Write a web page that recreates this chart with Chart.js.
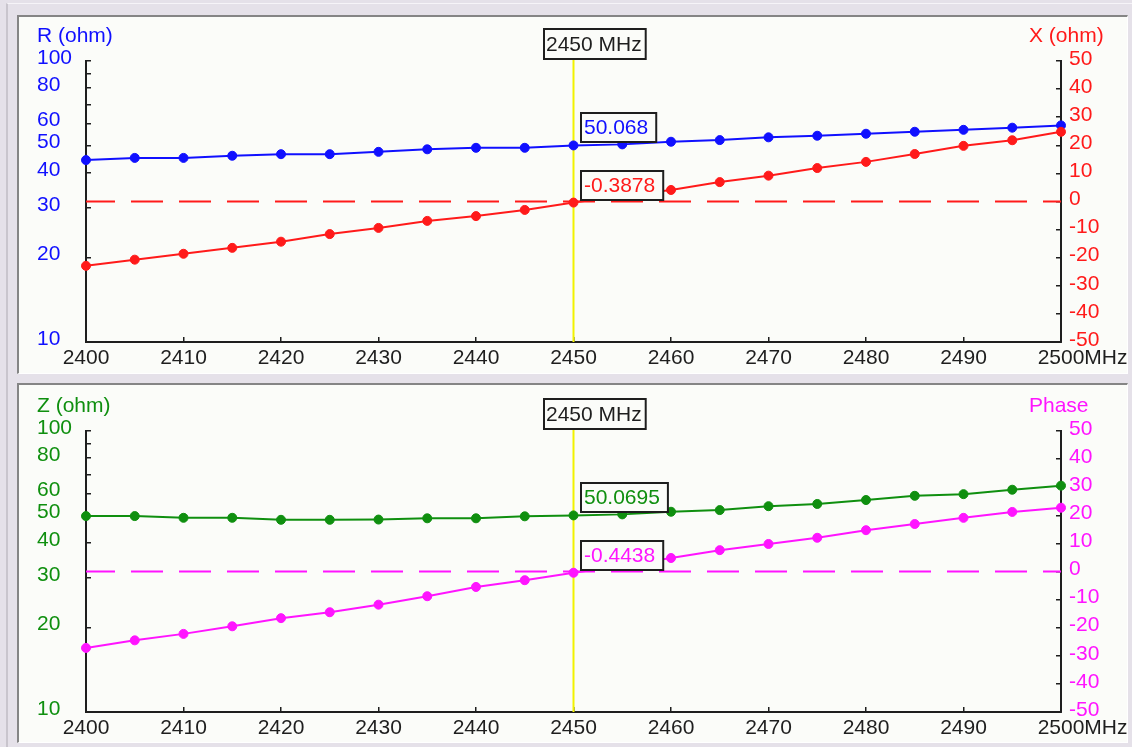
<!DOCTYPE html>
<html><head><meta charset="utf-8">
<script src="https://cdn.jsdelivr.net/npm/chart.js@4.4.1/dist/chart.umd.min.js"></script>
<style>
html,body{margin:0;padding:0;background:#e5e1e9;width:1132px;height:747px;overflow:hidden;}
.outer{position:absolute;left:6px;top:3px;width:1126px;height:744px;border-left:2px solid #c9c5cd;border-top:1px solid #f6f4f8;box-sizing:border-box;}
.panel{position:absolute;left:17px;width:1111px;box-sizing:border-box;border-top:2px solid #858585;border-left:2px solid #858585;border-right:1px solid #ffffff;border-bottom:1px solid #ffffff;background:#fbfcf9;}
#p1{top:15px;height:359px;}
#p2{top:383px;height:360px;}
canvas{display:block;}
</style></head>
<body>
<div class="outer"></div>
<div class="panel" id="p1"><canvas id="c1" width="1108" height="356"></canvas></div>
<div class="panel" id="p2"><canvas id="c2" width="1108" height="357"></canvas></div>
<script>
// ---- data ----
const freqMHz  = [2400,2405,2410,2415,2420,2425,2430,2435,2440,2445,2450,2455,2460,2465,2470,2475,2480,2485,2490,2495,2500];
const rOhm     = [44.4,45.2,45.2,46.0,46.6,46.6,47.5,48.5,49.1,49.1,50.068,50.5,51.6,52.3,53.5,54.2,55.1,56.0,56.9,57.9,59.0];
const xOhm     = [-22.9,-20.7,-18.6,-16.5,-14.3,-11.6,-9.4,-6.9,-5.2,-3.0,-0.3878,2.0,4.1,6.9,9.2,11.9,14.1,16.9,19.8,21.8,24.8];
const zOhm     = [49.8,49.8,49.1,49.1,48.3,48.3,48.4,48.9,48.9,49.7,50.0695,50.5,51.6,52.3,54.0,55.0,56.8,58.8,59.6,61.8,63.9];
const phaseDeg = [-27.2,-24.5,-22.2,-19.5,-16.6,-14.5,-11.8,-8.8,-5.5,-3.1,-0.4438,2.0,4.8,7.6,9.8,12.0,14.7,16.9,19.1,21.2,22.7];
const freqTicks = [2400,2410,2420,2430,2440,2450,2460,2470,2480,2490,2500];
const logTicks = [10,20,30,40,50,60,70,80,90,100];
const logTickLabels = [10,20,30,40,50,60,80,100];
const linTicks = [-50,-40,-30,-20,-10,0,10,20,30,40,50];
const markerFreq = 2450;
const freqUnit = 'MHz';

// ---- styling ----
const FONT_FAMILY = '"Liberation Sans", Arial, sans-serif';
const FONT_SIZE = 21;
const FONT = FONT_SIZE + 'px ' + FONT_FAMILY;
const BG = '#fbfcf9';
const AXIS = '#1e1e1e';
const BLUE = '#1010ff', RED = '#ff1a1a', GREEN = '#0f8f0f', MAGENTA = '#ff14ff';

Chart.defaults.font.family = FONT_FAMILY;
Chart.defaults.font.size = FONT_SIZE;
Chart.defaults.color = AXIS;

const pts = (ys) => freqMHz.map((f, i) => ({x: f, y: ys[i]}));
const zeroRef = () => [{x: freqMHz[0], y: 0}, {x: freqMHz[freqMHz.length - 1], y: 0}];

const decor = {
  id: 'decor',
  beforeDatasetsDraw(chart, args, o) {
    const {ctx, chartArea: ca} = chart;
    const mx = chart.scales.x.getPixelForValue(o.markerFreq);
    ctx.save();
    ctx.strokeStyle = '#f2f200';
    ctx.lineWidth = 2;
    ctx.beginPath();
    ctx.moveTo(mx, ca.top - 2);
    ctx.lineTo(mx, ca.bottom);
    ctx.stroke();
    ctx.restore();
  },
  afterDatasetsDraw(chart, args, o) {
    const {ctx} = chart;
    const mx = chart.scales.x.getPixelForValue(o.markerFreq);
    const idx = freqMHz.indexOf(o.markerFreq);
    ctx.save();
    ctx.font = FONT;
    ctx.textBaseline = 'middle';
    ctx.textAlign = 'left';
    o.readouts.forEach(di => {
      const ds = chart.data.datasets[di];
      const v = ds.data[idx].y;
      const py = chart.scales[ds.yAxisID].getPixelForValue(v);
      const txt = String(v);
      const w = ctx.measureText(txt).width + 11;
      const h = 29;
      const bx = Math.round(mx + 7), by = Math.round(py - 3 - h);
      ctx.fillStyle = BG;
      ctx.fillRect(bx, by, w, h);
      ctx.strokeStyle = AXIS;
      ctx.lineWidth = 2;
      ctx.strokeRect(bx, by, w, h);
      ctx.fillStyle = ds.borderColor;
      ctx.fillText(txt, bx + 3, by + h / 2 + 1);
    });
    ctx.restore();
  },
  afterDraw(chart, args, o) {
    const {ctx, chartArea: ca} = chart;
    const xs = chart.scales.x;
    const mx = xs.getPixelForValue(o.markerFreq);
    ctx.save();
    ctx.font = FONT;
    ctx.textBaseline = 'middle';
    // marker frequency box
    const mt = o.markerFreq + ' ' + freqUnit;
    const mw = ctx.measureText(mt).width + 6;
    const mh = 30;
    const bx = Math.round(mx - 30), by = Math.round(ca.top - 2 - mh);
    ctx.fillStyle = BG;
    ctx.fillRect(bx, by, mw, mh);
    ctx.strokeStyle = AXIS;
    ctx.lineWidth = 2;
    ctx.strokeRect(bx, by, mw, mh);
    ctx.fillStyle = AXIS;
    ctx.textAlign = 'left';
    ctx.fillText(mt, bx + 2, by + mh / 2 + 1);
    // axis titles
    ctx.fillStyle = o.leftColor;
    ctx.fillText(o.leftTitle, chart.scales.yL.left, ca.top - 25);
    ctx.fillStyle = o.rightColor;
    ctx.fillText(o.rightTitle, ca.right - 32, ca.top - 25);
    // unit after last x label
    try {
      const items = xs.getLabelItems();
      const last = items[items.length - 1];
      const [tx, ty] = last.options.translation;
      ctx.font = last.font.string;
      ctx.textBaseline = last.options.textBaseline;
      ctx.textAlign = 'left';
      ctx.fillStyle = AXIS;
      const w = ctx.measureText(String(last.label)).width;
      ctx.fillText(freqUnit, tx + w / 2, ty + last.textOffset);
    } catch (e) {}
    ctx.restore();
  }
};

function gridOpts() {
  return {drawOnChartArea: false, drawTicks: true, tickLength: -5, color: AXIS, lineWidth: 1.5};
}
function borderOpts() {
  return {display: true, color: AXIS, width: 2};
}

function makeChart(id, cfg) {
  return new Chart(document.getElementById(id), {
    type: 'line',
    data: {
      datasets: [
        {data: pts(cfg.rightData), yAxisID: 'yR', borderColor: cfg.rightColor, backgroundColor: cfg.rightColor,
         borderWidth: 2, pointRadius: 4.5, pointBorderWidth: 1, pointBackgroundColor: cfg.rightColor, pointBorderColor: cfg.rightColor, clip: false, tension: 0},
        {data: pts(cfg.leftData), yAxisID: 'yL', borderColor: cfg.leftColor, backgroundColor: cfg.leftColor,
         borderWidth: 2, pointRadius: 4.5, pointBorderWidth: 1, pointBackgroundColor: cfg.leftColor, pointBorderColor: cfg.leftColor, clip: false, tension: 0},
        {data: zeroRef(), yAxisID: 'yR', borderColor: cfg.rightColor, borderWidth: 2, borderDash: [32, 16], borderDashOffset: 3,
         pointRadius: 0, clip: false}
      ]
    },
    options: {
      responsive: false,
      animation: false,
      devicePixelRatio: 1,
      events: [],
      layout: {padding: {left: 18, top: cfg.padTop, right: 0, bottom: 0}},
      plugins: {
        legend: {display: false},
        tooltip: {enabled: false},
        decor: {markerFreq: markerFreq, readouts: [1, 0],
                leftTitle: cfg.leftTitle, leftColor: cfg.leftColor,
                rightTitle: cfg.rightTitle, rightColor: cfg.rightColor}
      },
      scales: {
        x: {
          type: 'linear', position: 'bottom', min: freqTicks[0], max: freqTicks[freqTicks.length - 1],
          afterBuildTicks: s => { s.ticks = freqTicks.map(v => ({value: v})); },
          afterFit: s => { s.height = cfg.xHeight; },
          ticks: {color: AXIS, autoSkip: false, maxRotation: 0, padding: 9, callback: v => String(v)},
          grid: gridOpts(), border: borderOpts()
        },
        yL: {
          type: 'logarithmic', position: 'left', min: 10, max: 100,
          afterBuildTicks: s => { s.ticks = logTicks.map(v => ({value: v})); },
          afterFit: s => { s.width = 49; },
          ticks: {color: cfg.leftColor, autoSkip: false, crossAlign: 'far', labelOffset: -3,
                  callback: v => logTickLabels.includes(v) ? String(v) : ''},
          grid: gridOpts(), border: borderOpts()
        },
        yR: {
          type: 'linear', position: 'right', min: -50, max: 50,
          afterBuildTicks: s => { s.ticks = linTicks.map(v => ({value: v})); },
          afterFit: s => { s.width = 66; },
          ticks: {color: cfg.rightColor, autoSkip: false, crossAlign: 'near', padding: 13, labelOffset: -2,
                  callback: v => String(v)},
          grid: gridOpts(), border: borderOpts()
        }
      }
    },
    plugins: [decor]
  });
}

makeChart('c1', {leftData: rOhm, rightData: xOhm, leftColor: BLUE, rightColor: RED,
                 leftTitle: 'R (ohm)', rightTitle: 'X (ohm)', padTop: 44, xHeight: 31});
makeChart('c2', {leftData: zOhm, rightData: phaseDeg, leftColor: GREEN, rightColor: MAGENTA,
                 leftTitle: 'Z (ohm)', rightTitle: 'Phase', padTop: 46, xHeight: 30});
</script>
</body></html>
